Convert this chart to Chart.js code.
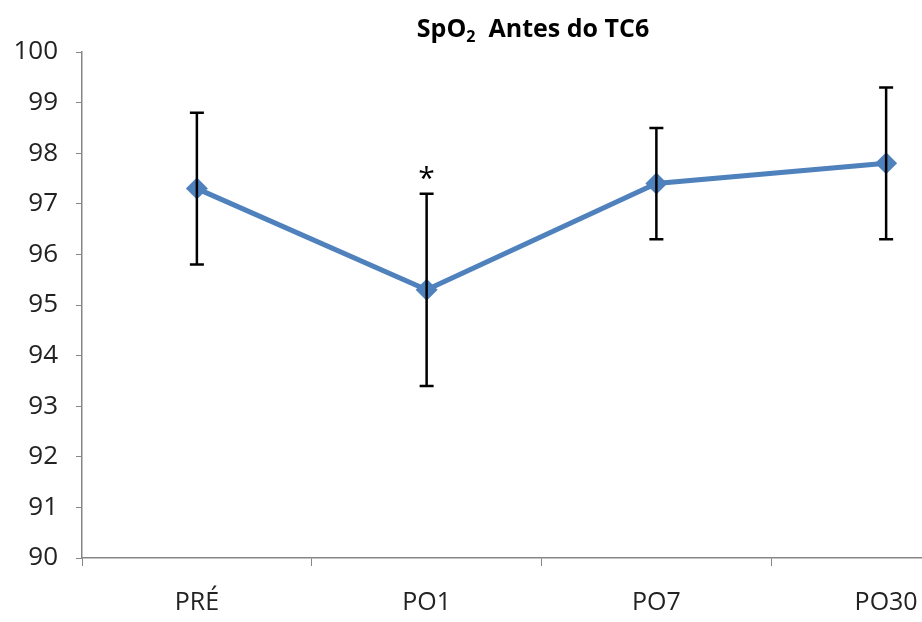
<!DOCTYPE html>
<html>
<head>
<meta charset="utf-8">
<script src="https://cdn.jsdelivr.net/npm/chart.js@4"></script>
<style>
  html, body { margin: 0; padding: 0; background: #fff; overflow: hidden; }
  #wrap { width: 922px; height: 622px; overflow: hidden; }
</style>
</head>
<body>
<div id="wrap"><canvas id="grafico" width="1012" height="622"></canvas></div>
<script>
const categorias = ['PRÉ', 'PO1', 'PO7', 'PO30']
const media = [97.3, 95.3, 97.4, 97.8]
const erroBaixo = [95.8, 93.4, 96.3, 96.3]
const erroAlto = [98.8, 97.2, 98.5, 99.3]
const marcas = ['', '*', '', '']

const fonte = "'Open Sans', 'Noto Sans', sans-serif"

// barras de erro e asterisco
const barrasErro = {
  id: 'barrasErro',
  afterDatasetsDraw(chart) {
    const ctx = chart.ctx
    const x = chart.scales.x
    const y = chart.scales.y
    ctx.save()
    ctx.strokeStyle = '#000'
    ctx.lineWidth = 2.5
    categorias.forEach((c, i) => {
      const px = x.getPixelForValue(i)
      const top = y.getPixelForValue(erroAlto[i])
      const bot = y.getPixelForValue(erroBaixo[i])
      ctx.beginPath()
      ctx.moveTo(px, top); ctx.lineTo(px, bot)
      ctx.moveTo(px - 7, top); ctx.lineTo(px + 7, top)
      ctx.moveTo(px - 7, bot); ctx.lineTo(px + 7, bot)
      ctx.stroke()
      if (marcas[i]) {
        ctx.fillStyle = '#000'
        ctx.font = "30px " + fonte
        ctx.textAlign = 'center'
        ctx.textBaseline = 'middle'
        ctx.fillText(marcas[i], px, top - 14)
      }
    })
    ctx.restore()
  }
}

// titulo com subscrito
const titulo = {
  id: 'titulo',
  afterDraw(chart) {
    const ctx = chart.ctx
    ctx.save()
    ctx.fillStyle = '#000'
    ctx.textBaseline = 'alphabetic'
    const big = "bold 25px " + fonte
    const small = "bold 16px " + fonte
    const partes = [['SpO', big, 0], ['2', small, 5], ['  Antes do TC6', big, 0]]
    let total = 0
    partes.forEach(p => { ctx.font = p[1]; total += ctx.measureText(p[0]).width })
    let x = 533 - total / 2
    partes.forEach(p => {
      ctx.font = p[1]
      ctx.fillText(p[0], x, 37 + p[2])
      x += ctx.measureText(p[0]).width
    })
    ctx.restore()
  }
}

const meuGrafico = new Chart(document.getElementById('grafico').getContext('2d'), {
  type: 'line',
  data: {
    labels: categorias,
    datasets: [{
      data: media,
      borderColor: '#4F81BD',
      backgroundColor: '#4F81BD',
      borderWidth: 5,
      pointStyle: 'rectRot',
      pointRadius: 11,
      pointHoverRadius: 11,
      pointBorderWidth: 0,
      tension: 0
    }]
  },
  options: {
    responsive: false,
    animation: false,
    events: [],
    layout: { padding: { top: 52, right: 10, left: 0, bottom: 0 } },
    plugins: { legend: { display: false }, tooltip: { enabled: false }, title: { display: false } },
    scales: {
      x: {
        offset: true,
        grid: { offset: true, drawOnChartArea: false, color: '#868686', tickLength: 8 },
        border: { color: '#868686', width: 1.5 },
        ticks: { color: '#222', font: { family: fonte, size: 25 }, padding: 22 },
        afterFit(scale) { scale.height = 64 }
      },
      y: {
        min: 90,
        max: 100,
        ticks: { stepSize: 1, color: '#222', font: { family: fonte, size: 26 }, padding: 18 },
        grid: { drawOnChartArea: false, color: '#868686', tickLength: 6 },
        border: { color: '#868686', width: 1.5 },
        afterFit(scale) { scale.width = 82 }
      }
    }
  },
  plugins: [barrasErro, titulo]
})
</script>
</body>
</html>
